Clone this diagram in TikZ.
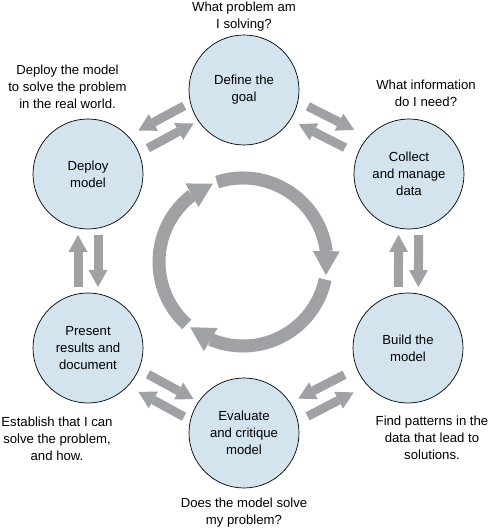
\documentclass[tikz,border=0pt]{standalone}
\usepackage{fontspec}
\setmainfont{Liberation Sans}
\usetikzlibrary{calc,arrows.meta,bending}
\definecolor{cfill}{RGB}{212,228,238}
\definecolor{agray}{RGB}{160,161,164}
\newcommand\arrowpair[4]{%
  \coordinate (m0) at ($(#1)!0.5!(#2)$);
  \coordinate (m) at ($(m0)+(0,#4)$);
  \coordinate (fA) at ($(m0)!26bp!(#1)$);
  \coordinate (fB) at ($(m0)!26bp!(#2)$);
  \coordinate (mp) at ($(m0)!10bp!#3:(#2)$);
  \draw[pairarrow] ($(m)+(fA)+(mp)-(m0)-(m0)$) -- ($(m)+(fB)+(mp)-(m0)-(m0)$);
  \draw[pairarrow] ($(m)+(fB)-(mp)$) -- ($(m)+(fA)-(mp)$);
}
\begin{document}
\begin{tikzpicture}[x=1bp,y=1bp,
  stage/.style={circle, draw=black, line width=0.7bp, fill=cfill, minimum size=110bp, inner sep=0pt, align=center, font=\fontsize{13.2}{17}\selectfont},
  note/.style={align=center, font=\fontsize{13.2}{17}\selectfont, inner sep=0pt},
  pairarrow/.style={draw=agray, line width=9bp, -{Triangle[length=17bp,width=19bp,line width=0pt]}},
  ringarrow/.style={draw=agray, line width=13bp, -{Triangle[length=24bp,width=27bp,line width=0pt]}}]
\useasboundingbox (0,0) rectangle (489,528);

\node[stage] (define) at (244,438) {Define the\\goal};
\node[stage] (collect) at (409,354) {Collect\\and manage\\data};
\node[stage] (build) at (408,180) {Build the\\model};
\node[stage] (evaluate) at (244,95) {Evaluate\\and critique\\model};
\node[stage] (present) at (88,180) {Present\\results and\\document};
\node[stage] (deploy) at (88,354) {Deploy\\model};

\node[note] (qdefine) at (244,511.5) {What problem am\\I solving?};
\node[note] (qcollect) at (426,434.5) {What information\\do I need?};
\node[note] (qbuild) at (432,90) {Find patterns in the\\data that lead to\\solutions.};
\node[note] (qevaluate) at (244,15) {Does the model solve\\my problem?};
\node[note] (qpresent) at (57,89) {Establish that I can\\solve the problem,\\and how.};
\node[note] (qdeploy) at (67.5,441) {Deploy the model\\to solve the problem\\in the real world.};

\arrowpair{define}{collect}{90}{5}
\arrowpair{collect}{build}{90}{0}
\arrowpair{build}{evaluate}{-90}{-5}
\arrowpair{evaluate}{present}{90}{-5}
\arrowpair{present}{deploy}{90}{0}
\arrowpair{deploy}{define}{-90}{5}

\coordinate (ring) at (243,266);
\draw[ringarrow] ($(ring)+(108:84bp)$) arc[start angle=108, end angle=-9, radius=84bp];
\draw[ringarrow] ($(ring)+(-12:84bp)$) arc[start angle=-12, end angle=-129, radius=84bp];
\draw[ringarrow] ($(ring)+(228:84bp)$) arc[start angle=228, end angle=111, radius=84bp];
\end{tikzpicture}
\end{document}
